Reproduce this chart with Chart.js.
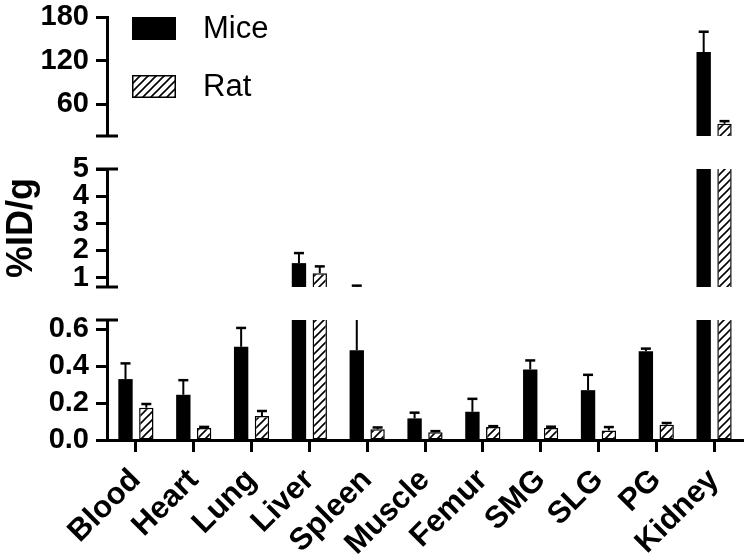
<!DOCTYPE html>
<html>
<head>
<meta charset="utf-8">
<script src="https://cdn.jsdelivr.net/npm/chart.js@4.4.1/dist/chart.umd.min.js"></script>
<style>
  body { margin: 0; background: #fff; }
  #wrap { position: relative; width: 750px; height: 557px; }
  canvas { position: absolute; left: 0; }
</style>
</head>
<body>
<div id="wrap">
  <canvas id="topChart" width="750" height="150" style="top:0"></canvas>
  <canvas id="midChart" width="750" height="150" style="top:150px"></canvas>
  <canvas id="lowChart" width="750" height="257" style="top:300px"></canvas>
</div>
<script>
const organs = ['Blood', 'Heart', 'Lung', 'Liver', 'Spleen', 'Muscle', 'Femur', 'SMG', 'SLG', 'PG', 'Kidney'];
const miceMean = [0.33, 0.245, 0.505, 1.53, 0.486, 0.117, 0.153, 0.382, 0.27, 0.481, 131.7];
const miceErr  = [0.085, 0.079, 0.102, 0.37, 0.214, 0.031, 0.07, 0.049, 0.083, 0.014, 28];
const ratMean  = [0.175, 0.065, 0.13, 1.16, 0.058, 0.042, 0.07, 0.065, 0.052, 0.083, 32.8];
const ratErr   = [0.02, 0.006, 0.027, 0.25, 0.01, 0.006, 0.005, 0.007, 0.018, 0.009, 3.7];

// the three pieces of the broken y axis
const topTicks = [60, 120, 180];
const midTicks = [1, 2, 3, 4, 5];
const lowTicks = [0, 0.2, 0.4, 0.6];

const FONT = '"Liberation Sans", Arial, sans-serif';
Chart.defaults.font.family = FONT;
Chart.defaults.color = '#000';

function makeHatch() {
  const c = document.createElement('canvas');
  c.width = 8; c.height = 8;
  const g = c.getContext('2d');
  g.fillStyle = '#fff';
  g.fillRect(0, 0, 8, 8);
  g.strokeStyle = '#000';
  g.lineWidth = 1.6;
  g.beginPath();
  g.moveTo(0, 8); g.lineTo(8, 0);
  g.moveTo(-2, 2); g.lineTo(2, -2);
  g.moveTo(6, 10); g.lineTo(10, 6);
  g.stroke();
  return g.createPattern(c, 'repeat');
}
const hatch = makeHatch();

function makeDatasets() {
  return [
    { label: 'Mice', data: miceMean, errors: miceErr, backgroundColor: '#000', borderWidth: 0,
      categoryPercentage: 0.72, barPercentage: 0.69, clip: 0 },
    { label: 'Rat', data: ratMean, errors: ratErr, backgroundColor: hatch, borderColor: '#000', borderWidth: 1.5,
      borderSkipped: false, categoryPercentage: 0.72, barPercentage: 0.69, clip: 0 }
  ];
}

const errorBars = {
  id: 'errorBars',
  afterDatasetsDraw(chart) {
    const { ctx, chartArea } = chart;
    const y = chart.scales.y;
    ctx.save();
    ctx.beginPath();
    ctx.rect(chartArea.left, chartArea.top, chartArea.right - chartArea.left, chartArea.bottom - chartArea.top);
    ctx.clip();
    ctx.strokeStyle = '#000';
    chart.data.datasets.forEach((ds, i) => {
      chart.getDatasetMeta(i).data.forEach((bar, j) => {
        const top = y.getPixelForValue(ds.data[j] + ds.errors[j]);
        if (top > chartArea.bottom) return;
        const from = Math.min(bar.y, chartArea.bottom);
        ctx.lineWidth = 2;
        ctx.beginPath();
        ctx.moveTo(bar.x, from);
        ctx.lineTo(bar.x, top);
        ctx.stroke();
        ctx.lineWidth = 2.5;
        ctx.beginPath();
        ctx.moveTo(bar.x - 5, top);
        ctx.lineTo(bar.x + 5, top);
        ctx.stroke();
      });
    });
    ctx.restore();
  }
};

// small horizontal caps where the y axis is broken
const breakCaps = {
  id: 'breakCaps',
  afterDraw(chart, args, opts) {
    const { ctx, chartArea } = chart;
    const ys = [];
    if (opts.top) ys.push(chartArea.top);
    if (opts.bottom) ys.push(chartArea.bottom);
    ctx.save();
    ctx.strokeStyle = '#000';
    ctx.lineWidth = 3;
    ys.forEach(yy => {
      ctx.beginPath();
      ctx.moveTo(chartArea.left - 11, yy);
      ctx.lineTo(chartArea.left + 11, yy);
      ctx.stroke();
    });
    ctx.restore();
  }
};

const boxLegend = {
  id: 'boxLegend',
  afterDraw(chart, args, opts) {
    if (!opts.show) return;
    const { ctx, chartArea } = chart;
    ctx.save();
    chart.data.datasets.forEach((ds, i) => {
      const x = chartArea.left + 25;
      const y = chartArea.top + i * 58;
      ctx.fillStyle = ds.backgroundColor;
      ctx.fillRect(x, y, 44, 23);
      ctx.lineWidth = 1.5;
      ctx.strokeStyle = '#000';
      ctx.strokeRect(x + 0.75, y + 0.75, 42.5, 21.5);
      ctx.fillStyle = '#000';
      ctx.font = '31px ' + FONT;
      ctx.textBaseline = 'middle';
      ctx.fillText(ds.label, x + 71, y + 12);
    });
    ctx.restore();
  }
};

function yAxis(min, max, ticks, decimals, title) {
  return {
    min: min,
    max: max,
    afterBuildTicks: s => { s.ticks = ticks.map(v => ({ value: v })); },
    afterFit: s => { s.width = 107; s.paddingTop = 0; s.paddingBottom = 0; },
    border: { display: true, width: 3, color: '#000' },
    grid: { drawOnChartArea: false, drawTicks: true, tickLength: 11, tickWidth: 3, tickColor: '#000', color: '#000' },
    ticks: { autoSkip: false, color: '#000', padding: 7, font: { size: 29, weight: 'bold' },
      callback: v => Number(v).toFixed(decimals) },
    title: title ? { display: true, text: title, color: '#000', padding: 0, font: { size: 36, weight: 'bold' } }
                 : { display: false }
  };
}

function hiddenX() {
  return { display: false, offset: true, afterFit: s => { s.paddingLeft = 0; s.paddingRight = 0; } };
}

function makeChart(id, padding, xScale, yScale, caps, legendOn) {
  return new Chart(document.getElementById(id), {
    type: 'bar',
    data: { labels: organs, datasets: makeDatasets() },
    options: {
      responsive: false,
      animation: false,
      devicePixelRatio: 1,
      layout: { padding: padding },
      scales: { x: xScale, y: yScale },
      plugins: {
        legend: { display: false },
        tooltip: { enabled: false },
        breakCaps: caps,
        boxLegend: { show: legendOn }
      }
    },
    plugins: [errorBars, breakCaps, boxLegend]
  });
}

makeChart('topChart', { top: 17, bottom: 14, left: 0, right: 7 }, hiddenX(),
  yAxis(16, 180, topTicks, 0), { top: false, bottom: true }, true);

makeChart('midChart', { top: 19, bottom: 13, left: 0, right: 7 }, hiddenX(),
  yAxis(0.65, 5, midTicks, 0, '%ID/g'), { top: true, bottom: true }, false);

makeChart('lowChart', { top: 20, bottom: 0, left: 0, right: 7 }, {
    offset: true,
    afterFit: s => { s.height = 117; s.paddingLeft = 0; s.paddingRight = 0; },
    border: { display: true, width: 3, color: '#000' },
    grid: { offset: false, drawOnChartArea: false, drawTicks: true, tickLength: 12, tickWidth: 3, tickColor: '#000', color: '#000' },
    ticks: { autoSkip: false, maxRotation: 45, minRotation: 45, color: '#000', padding: 10,
      font: { size: 31, weight: 'bold' } }
  },
  yAxis(0, 0.65, lowTicks, 1), { top: true, bottom: false }, false);
</script>
</body>
</html>
